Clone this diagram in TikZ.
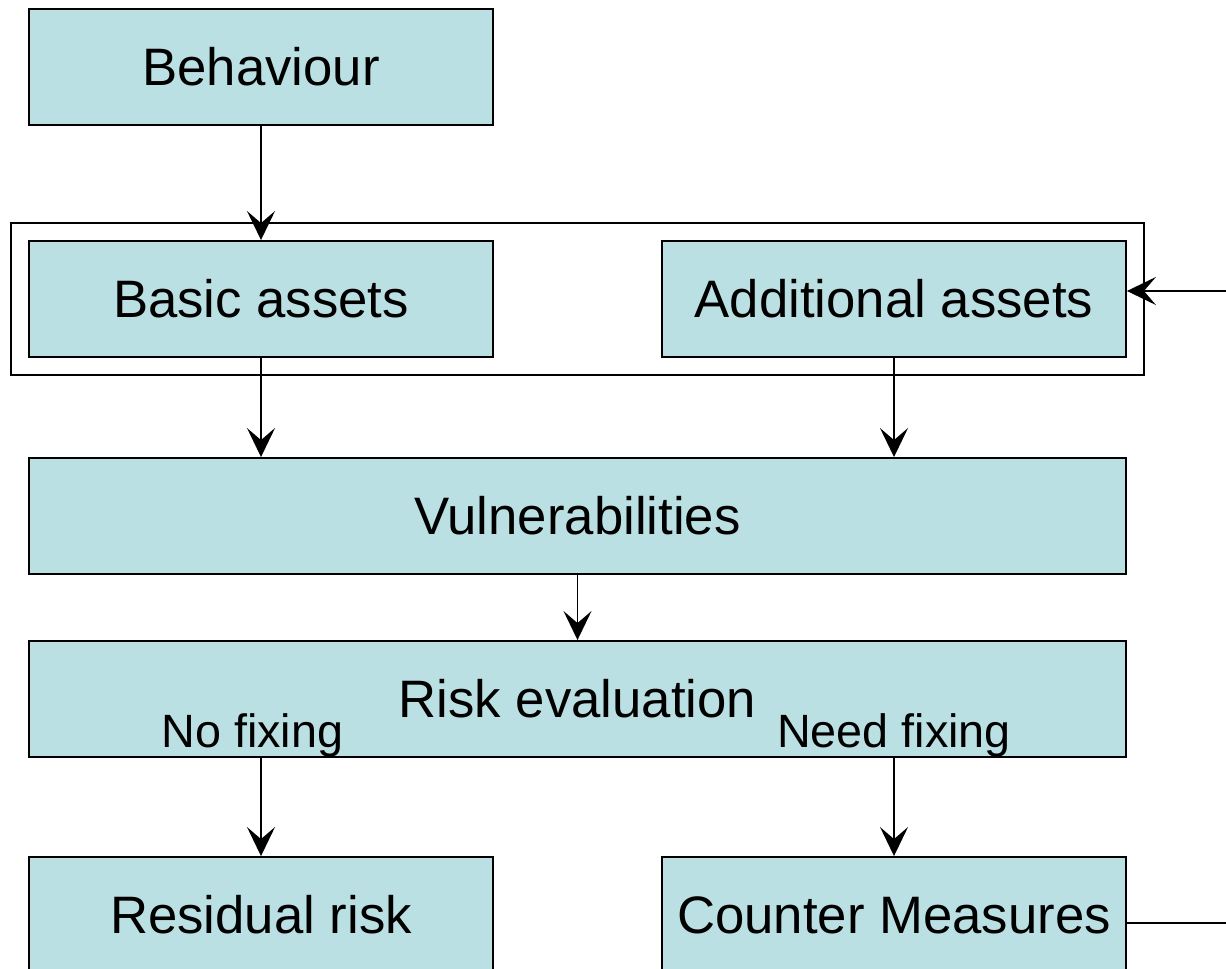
\documentclass[tikz,border=0pt]{standalone}
\usepackage{fontspec}
\setmainfont{Liberation Sans}
\usetikzlibrary{arrows.meta,positioning,fit}
\definecolor{BoxCyan}{RGB}{187,224,227}
\tikzset{
  stage/.style={draw=black,fill=BoxCyan,line width=1.1pt,inner sep=0pt,
    minimum width=9.28cm,minimum height=2.32cm,font=\fontsize{30}{34}\selectfont},
  wide/.style={stage,minimum width=21.94cm},
  flow/.style={-{Stealth[length=0.58cm,width=0.56cm,inset=0.24cm]},line width=1.1pt},
  branch/.style={anchor=base,inner sep=0pt,font=\fontsize{26.6}{30}\selectfont}
}

\begin{document}
\begin{tikzpicture}[x=0.02cm,y=-0.02cm]
  \useasboundingbox (0,0) rectangle (1226,969);
  \node[stage] (behav) at (261,67) {Behaviour};
  \node[stage] (basic) at (261,299) {Basic assets};
  \node[stage] (addl) at (894,299) {Additional assets};
  \node[draw=black,line width=1.1pt,inner xsep=0.34cm,inner ysep=0.34cm,fit=(basic)(addl)] (assets) {};
  \node[wide] (vuln) at (577.5,516) {Vulnerabilities};
  \node[wide] (risk) at (577.5,699) {Risk evaluation};
  \node[stage] (resid) at (261,915) {Residual risk};
  \node[stage] (counter) at (894,915) {Counter Measures};
  \node[branch] (nofix) at (252.5,747) {No fixing};
  \node[branch] (needfix) at (894,747) {Need fixing};
  % outside links
  \coordinate (feedin) at (1226,291);
  \coordinate (feedout) at (1226,923);
  \draw[flow] (behav) -- (basic);
  \draw[flow] (basic) -- (basic |- vuln.north);
  \draw[flow] (addl) -- (addl |- vuln.north);
  \draw[flow] (vuln) -- (risk);
  \draw[flow] (resid |- risk.south) -- (resid);
  \draw[flow] (counter |- risk.south) -- (counter);
  \draw[flow] (feedin) -- (addl.east |- feedin);
  \draw[line width=1.1pt] (counter.east |- feedout) -- (feedout);
\end{tikzpicture}
\end{document}
